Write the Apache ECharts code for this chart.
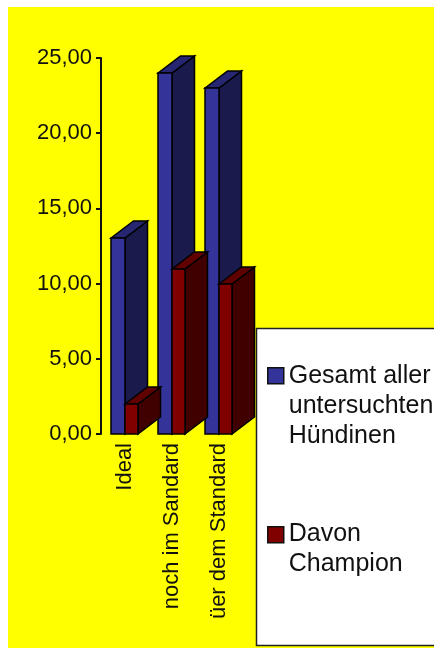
<!DOCTYPE html>
<html><head><meta charset="utf-8">
<style>html,body{margin:0;padding:0;background:#fff}#c{width:434px;height:648px}</style>
<script src="https://cdn.jsdelivr.net/npm/echarts@6/dist/echarts.min.js"></script>
</head><body><div id="c"></div>
<script>
const categories = ['Ideal', 'noch im Sandard', 'üer dem Standard'];
const seriesNames = ['Gesamt aller\nuntersuchten\nHündinen', 'Davon\nChampion'];
const gesamt = [13, 24, 23];
const champion = [2, 11, 10];
const FONT = '"Liberation Sans", Arial, sans-serif';
const INK = '#111111';
const DEPTH_X = 22.5, DEPTH_Y = 17, BAR_W = 13.25;

function bar3d(slot, colors) {
  return function (params, api) {
    const top = api.coord([api.value(0), api.value(1)]);
    const base = api.coord([api.value(0), 0]);
    const x0 = Math.round(top[0] + (slot === 0 ? -BAR_W : 0));
    const x1 = Math.round(top[0] + (slot === 0 ? 0 : BAR_W));
    const yT = Math.round(top[1]), yB = Math.round(base[1]);
    const style = c => ({ fill: c, stroke: '#000', lineWidth: 1.5 });
    return {
      type: 'group',
      children: [
        { type: 'polygon', shape: { points: [[x1, yT], [x1 + DEPTH_X, yT - DEPTH_Y], [x1 + DEPTH_X, yB - DEPTH_Y], [x1, yB]] }, style: style(colors[1]) },
        { type: 'polygon', shape: { points: [[x0, yT], [x0 + DEPTH_X, yT - DEPTH_Y], [x1 + DEPTH_X, yT - DEPTH_Y], [x1, yT]] }, style: style(colors[2]) },
        { type: 'rect', shape: { x: x0, y: yT, width: x1 - x0, height: yB - yT }, style: style(colors[0]) }
      ]
    };
  };
}

const chart = echarts.init(document.getElementById('c'), null, { renderer: 'canvas' });
const legendBase = {
  orient: 'vertical', left: 267, padding: 0, itemWidth: 16, selectedMode: false,
  textStyle: { fontFamily: FONT, fontSize: 25, lineHeight: 30, color: INK },
  itemStyle: { borderColor: INK, borderWidth: 1.5 }
};
chart.setOption({
  animation: false,
  backgroundColor: '#ffffff',
  textStyle: { fontFamily: FONT },
  graphic: [
    { type: 'rect', z: -10, silent: true, shape: { x: 8, y: 7, width: 426, height: 641 }, style: { fill: '#ffff00' } },
    { type: 'rect', z: 3, silent: true, shape: { x: 256.5, y: 328.5, width: 190, height: 317 }, style: { fill: '#ffffff', stroke: '#222', lineWidth: 1.5 } }
  ],
  grid: { left: 101, top: 58, width: 141, height: 376, containLabel: false },
  xAxis: {
    type: 'category', data: categories,
    axisLine: { show: false }, axisTick: { show: false },
    axisLabel: { interval: 0, rotate: 90, margin: 9, fontFamily: FONT, fontSize: 22, color: INK }
  },
  yAxis: {
    type: 'value', min: 0, max: 25, interval: 5,
    splitLine: { show: false },
    axisLine: { show: true, lineStyle: { color: INK, width: 2 } },
    axisTick: { show: true, length: 5, lineStyle: { color: INK, width: 2 } },
    axisLabel: { margin: 9, fontFamily: FONT, fontSize: 22, color: INK, formatter: v => v.toFixed(2).replace('.', ',') }
  },
  legend: [
    Object.assign({}, legendBase, { top: 360, itemHeight: 90, data: [{ name: seriesNames[0], icon: 'path://M0 7H16V23H0Z M0 0L0 0 M16 90L16 90' }] }),
    Object.assign({}, legendBase, { top: 518, itemHeight: 60, data: [{ name: seriesNames[1], icon: 'path://M0 8H16V24H0Z M0 0L0 0 M16 60L16 60' }] })
  ],
  series: [
    { type: 'custom', name: seriesNames[0], itemStyle: { color: '#333399' }, renderItem: bar3d(0, ['#333399', '#1a1a4d', '#262673']), encode: { x: 0, y: 1 }, data: gesamt.map((v, i) => [i, v]) },
    { type: 'custom', name: seriesNames[1], itemStyle: { color: '#800000' }, renderItem: bar3d(1, ['#800000', '#400000', '#600000']), encode: { x: 0, y: 1 }, data: champion.map((v, i) => [i, v]) }
  ]
});
</script></body></html>
